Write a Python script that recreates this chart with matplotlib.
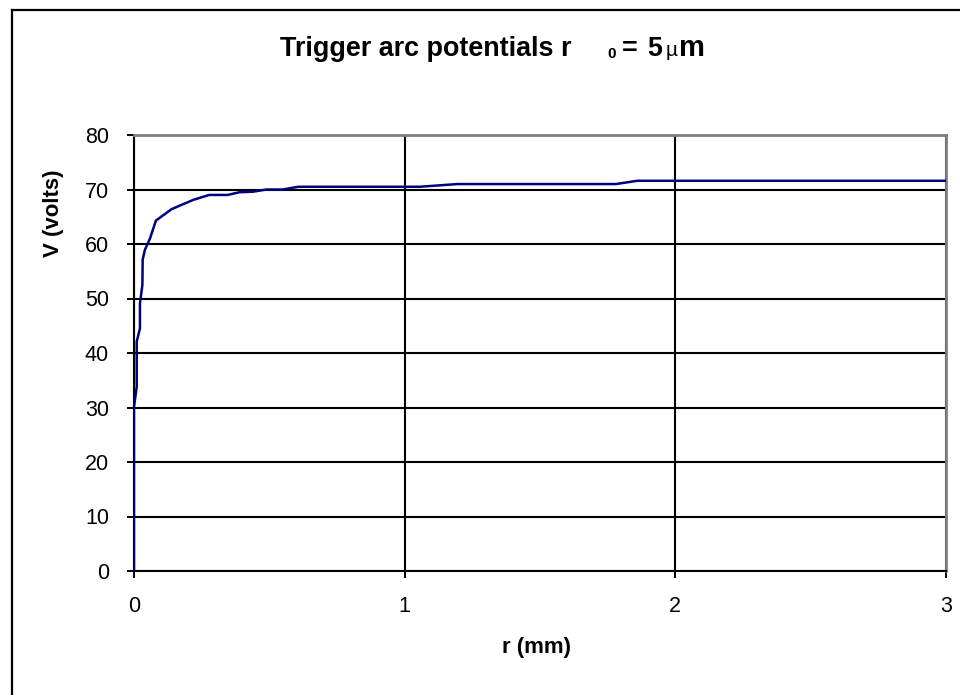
import matplotlib
matplotlib.use("Agg")
import matplotlib.pyplot as plt
from matplotlib.lines import Line2D

plt.rcParams['font.family'] = ['Liberation Sans', 'DejaVu Sans']

# radius (mm) and trigger arc potential (V)
r_mm = [0, 0, 0.01, 0.01, 0.022, 0.022, 0.031, 0.032, 0.04, 0.059, 0.081,
        0.139, 0.219, 0.278, 0.346, 0.39, 0.44, 0.49, 0.55, 0.607, 1.055,
        1.196, 1.78, 1.86, 3.0]
volts = [0, 30.1, 33.8, 42.1, 44.5, 49.1, 52.5, 57.1, 58.9, 61.0, 64.3,
         66.4, 68.1, 69.0, 69.0, 69.5, 69.6, 70.0, 70.0, 70.5, 70.5,
         71.0, 71.0, 71.6, 71.6]

x_ticks = [0, 1, 2, 3]
y_ticks = [0, 10, 20, 30, 40, 50, 60, 70, 80]

W, H = 960, 695
fig = plt.figure(figsize=(W / 100, H / 100), dpi=100)
ax = fig.add_axes([134 / W, 1 - 571 / H, 812 / W, 436 / H])

ax.plot(r_mm, volts, color='#000080', linewidth=1.8, zorder=3,
        solid_joinstyle='miter')

ax.set_xlim(0, 3)
ax.set_ylim(0, 80)
ax.set_xticks(x_ticks)
ax.set_yticks(y_ticks)
ax.tick_params(axis='both', direction='out', length=5, width=1.4,
               labelsize=15.5, pad=13, color='black')

ax.grid(True, color='black', linewidth=1.5)
ax.set_axisbelow(True)
for side in ('top', 'right'):
    ax.spines[side].set_color('#808080')
    ax.spines[side].set_linewidth(2)
for side in ('left', 'bottom'):
    ax.spines[side].set_color('black')
    ax.spines[side].set_linewidth(1.5)

# axis labels placed where the original has them
fig.text(537 / W, 1 - 648 / H, 'r (mm)', ha='center', va='center',
         fontsize=16, fontweight='bold')
fig.text(54 / W, 1 - 213 / H, 'V (volts)', ha='center', va='center',
         rotation=90, fontsize=16, fontweight='bold')

# title in pieces: subscript zero and greek mu
ty = 1 - 56 / H
fig.text(280 / W, ty, 'Trigger arc potentials r', ha='left',
         va='baseline', fontsize=19.4, fontweight='bold')
fig.text(607 / W, 1 - 58 / H, '0', ha='left', va='baseline',
         fontsize=11, fontweight='bold')
fig.text(622 / W, ty, '=', ha='left', va='baseline',
         fontsize=19.4, fontweight='bold')
fig.text(647 / W, ty, '5', ha='left', va='baseline',
         fontsize=19.4, fontweight='bold')
fig.text(666 / W, ty, 'µ', ha='left', va='baseline', fontsize=15)
fig.text(679 / W, ty, 'm', ha='left', va='baseline',
         fontsize=21, fontweight='bold')

# outer chart frame (only its top and left edges fall inside the image)
fig.add_artist(Line2D([12 / W, 12 / W], [0, 1 - 10 / H], color='black',
                      linewidth=1.6, transform=fig.transFigure))
fig.add_artist(Line2D([12 / W, 1], [1 - 10 / H, 1 - 10 / H], color='black',
                      linewidth=1.6, transform=fig.transFigure))

fig.savefig('out.png', dpi=100)
